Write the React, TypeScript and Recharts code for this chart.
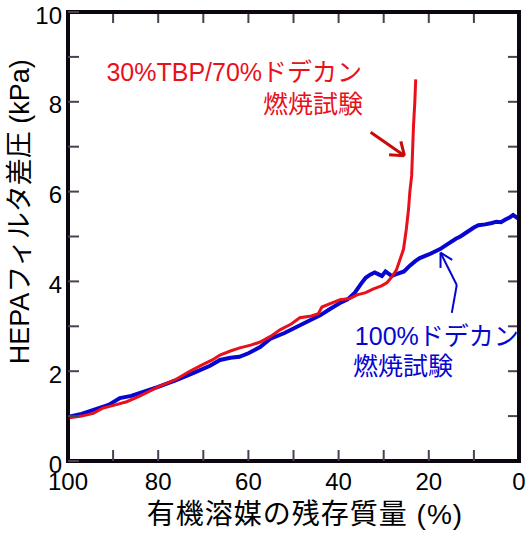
import React from "react";
import { LineChart, Line, XAxis, YAxis, ReferenceLine, ReferenceArea, ReferenceDot } from "recharts";

const xTicks = [0, 10, 20, 30, 40, 50, 60, 70, 80, 90, 100];
const yTicks = [0, 1, 2, 3, 4, 5, 6, 7, 8, 9, 10];

const blueX = [100, 97, 94, 91, 88.5, 86, 83, 80, 76, 72, 68.5, 66.3, 64, 62, 60, 57.4, 55.2, 52, 49, 47, 44, 42, 39.7, 38, 36.4, 35, 34, 33, 32, 31, 30.4, 29.6, 29, 28.2, 27, 25.5, 24.2, 23, 22, 20, 17.5, 16, 14, 13, 11.5, 10, 9, 7.5, 6, 5, 4, 3, 2, 1.3, 0.5, 0];
const blueY = [0.98, 1.05, 1.15, 1.25, 1.4, 1.45, 1.55, 1.65, 1.8, 1.97, 2.12, 2.25, 2.3, 2.32, 2.4, 2.54, 2.72, 2.85, 3.0, 3.1, 3.25, 3.38, 3.52, 3.6, 3.75, 3.95, 4.08, 4.15, 4.2, 4.15, 4.12, 4.22, 4.18, 4.12, 4.17, 4.22, 4.35, 4.45, 4.52, 4.6, 4.72, 4.82, 4.95, 5.0, 5.1, 5.2, 5.25, 5.27, 5.3, 5.33, 5.32, 5.38, 5.43, 5.48, 5.42, 5.45];

const redX = [100, 97, 94.4, 92.2, 89.5, 87, 84, 80, 76, 73, 70.7, 68, 66.3, 64, 61.9, 59.5, 57.4, 55, 53, 50.5, 48.6, 46, 44.5, 43.7, 42, 39.7, 37.5, 35.9, 34, 32.4, 30.5, 29.3, 28.2, 27.2, 26.4, 25.6, 25.0, 24.5, 24.2, 23.8, 23.4, 23.1, 22.9];
const redY = [0.96, 1.0, 1.06, 1.18, 1.25, 1.32, 1.45, 1.65, 1.82, 2.0, 2.12, 2.25, 2.36, 2.45, 2.52, 2.58, 2.65, 2.78, 2.92, 3.05, 3.19, 3.23, 3.28, 3.43, 3.5, 3.59, 3.62, 3.7, 3.75, 3.83, 3.9, 3.97, 4.1, 4.25, 4.48, 4.72, 5.15, 5.6, 6.0, 6.35, 7.45, 8.0, 8.5];

const blueData = blueX.map((x, i) => ({ x, y: blueY[i] }));
const redData = redX.map((x, i) => ({ x, y: redY[i] }));

const RED = "#e8111b";
const RED_ARROW = "#c80a0a";
const BLUE = "#0606d0";
const TEXT = "#000000";
const FRAME = "#0b0610";
const TICK_COLOR = "#4a4052";
const FONT = "'Liberation Sans', Arial, 'Noto Sans CJK JP', sans-serif";
const X_TICK_LEN = 0.245; // in y units (~11px)
const Y_TICK_LEN = 2.45; // in x units (~11px)

const xFmt = (v: number) => (v % 20 === 0 ? String(v) : "");
const yFmt = (v: number) => (v % 2 === 0 ? String(v) : "");
const blank = () => "";

const textShape = (label: string, color: string, anchor: string, size: number, rotate = false, spacing = 0) =>
  (p: any) => (
    <text x={p.cx} y={p.cy} textAnchor={anchor} fontSize={size} fontFamily={FONT} fill={color}
      letterSpacing={spacing} transform={rotate ? `rotate(-90, ${p.cx}, ${p.cy})` : undefined}>
      {label}
    </text>
  );

export default function App() {
  return (
    <div style={{ position: "absolute", left: 0, top: 0, width: 530, height: 533, background: "#ffffff" }}>
      <LineChart width={530} height={533} margin={{ top: 11, right: 10, bottom: 0, left: 0 }}>
        <XAxis xAxisId="b" type="number" dataKey="x" domain={[0, 100]} reversed ticks={xTicks} interval={0}
          height={72} tickSize={-11} tickMargin={23} tickFormatter={xFmt}
          tickLine={{ stroke: TICK_COLOR, strokeWidth: 2 }} axisLine={{ stroke: FRAME, strokeWidth: 4 }}
          tick={{ fill: TEXT, fontSize: 24, fontFamily: FONT }} />
        <XAxis xAxisId="t" orientation="top" type="number" dataKey="x" domain={[0, 100]} reversed ticks={xTicks}
          interval={0} height={1} tickSize={-11} tickMargin={0} tickFormatter={blank}
          tickLine={{ stroke: TICK_COLOR, strokeWidth: 2 }} axisLine={{ stroke: FRAME, strokeWidth: 4 }} />
        <YAxis yAxisId="l" type="number" domain={[0, 10]} ticks={yTicks} interval={0} width={68}
          tickSize={-11} tickMargin={17} tickFormatter={yFmt}
          tickLine={{ stroke: TICK_COLOR, strokeWidth: 2 }} axisLine={{ stroke: FRAME, strokeWidth: 4 }}
          tick={{ fill: TEXT, fontSize: 24, fontFamily: FONT, dy: 3 }} />
        <YAxis yAxisId="r" orientation="right" type="number" domain={[0, 10]} ticks={yTicks} interval={0}
          width={1} tickSize={-11} tickMargin={0} tickFormatter={blank}
          tickLine={{ stroke: TICK_COLOR, strokeWidth: 2 }} axisLine={{ stroke: FRAME, strokeWidth: 4 }} />
        {xTicks.map((v) => (
          <ReferenceLine key={"xt" + v} xAxisId="b" yAxisId="l" segment={[{ x: v, y: 10 }, { x: v, y: 10 - X_TICK_LEN }]}
            stroke={TICK_COLOR} strokeWidth={2} ifOverflow="visible" />
        ))}
        {yTicks.map((v) => (
          <ReferenceLine key={"yr" + v} xAxisId="b" yAxisId="l" segment={[{ x: 0.001, y: v }, { x: Y_TICK_LEN, y: v }]}
            stroke={TICK_COLOR} strokeWidth={2} ifOverflow="visible" />
        ))}
        <ReferenceArea xAxisId="b" yAxisId="l" x1={0} x2={100} y1={0} y2={10} fill="none"
          stroke={FRAME} strokeWidth={4} ifOverflow="visible" />
        <Line xAxisId="b" yAxisId="l" data={blueData} dataKey="y" type="linear" stroke={BLUE}
          strokeWidth={4} dot={false} isAnimationActive={false} />
        <Line xAxisId="b" yAxisId="l" data={redData} dataKey="y" type="linear" stroke={RED}
          strokeWidth={3} dot={false} isAnimationActive={false} />
        <ReferenceLine xAxisId="b" yAxisId="l" segment={[{ x: 32.9, y: 7.32 }, { x: 25.4, y: 6.8 }]}
          stroke={RED_ARROW} strokeWidth={3} ifOverflow="visible" />
        <ReferenceLine xAxisId="b" yAxisId="l" segment={[{ x: 26.2, y: 7.12 }, { x: 25.4, y: 6.8 }]}
          stroke={RED_ARROW} strokeWidth={3} ifOverflow="visible" />
        <ReferenceLine xAxisId="b" yAxisId="l" segment={[{ x: 28.8, y: 6.82 }, { x: 25.4, y: 6.8 }]}
          stroke={RED_ARROW} strokeWidth={3} ifOverflow="visible" />
        <ReferenceLine xAxisId="b" yAxisId="l" segment={[{ x: 14.9, y: 3.3 }, { x: 13.8, y: 3.92 }]}
          stroke={BLUE} strokeWidth={2} ifOverflow="visible" />
        <ReferenceLine xAxisId="b" yAxisId="l" segment={[{ x: 13.8, y: 3.92 }, { x: 17.4, y: 4.64 }]}
          stroke={BLUE} strokeWidth={2} ifOverflow="visible" />
        <ReferenceLine xAxisId="b" yAxisId="l" segment={[{ x: 17.4, y: 4.3 }, { x: 17.4, y: 4.64 }]}
          stroke={BLUE} strokeWidth={2} ifOverflow="visible" />
        <ReferenceLine xAxisId="b" yAxisId="l" segment={[{ x: 14.8, y: 4.48 }, { x: 17.4, y: 4.64 }]}
          stroke={BLUE} strokeWidth={2} ifOverflow="visible" />
        <ReferenceDot xAxisId="b" yAxisId="l" x={34.8} y={8.47} r={0} ifOverflow="visible"
          shape={textShape("30%TBP/70%ドデカン", RED, "end", 25)} />
        <ReferenceDot xAxisId="b" yAxisId="l" x={34.6} y={7.76} r={0} ifOverflow="visible"
          shape={textShape("燃焼試験", RED, "end", 25)} />
        <ReferenceDot xAxisId="b" yAxisId="l" x={36.4} y={2.59} r={0} ifOverflow="visible"
          shape={textShape("100%ドデカン", BLUE, "start", 25)} />
        <ReferenceDot xAxisId="b" yAxisId="l" x={36.8} y={1.92} r={0} ifOverflow="visible"
          shape={textShape("燃焼試験", BLUE, "start", 25)} />
        <ReferenceDot xAxisId="b" yAxisId="l" x={108.6} y={5.55} r={0} ifOverflow="visible"
          shape={textShape("HEPAフィルタ差圧 (kPa)", TEXT, "middle", 27, true)} />
        <ReferenceDot xAxisId="b" yAxisId="l" x={47.45} y={-1.405} r={0} ifOverflow="visible"
          shape={textShape("有機溶媒の残存質量 (%)", TEXT, "middle", 28, false, 1)} />
      </LineChart>
    </div>
  );
}
